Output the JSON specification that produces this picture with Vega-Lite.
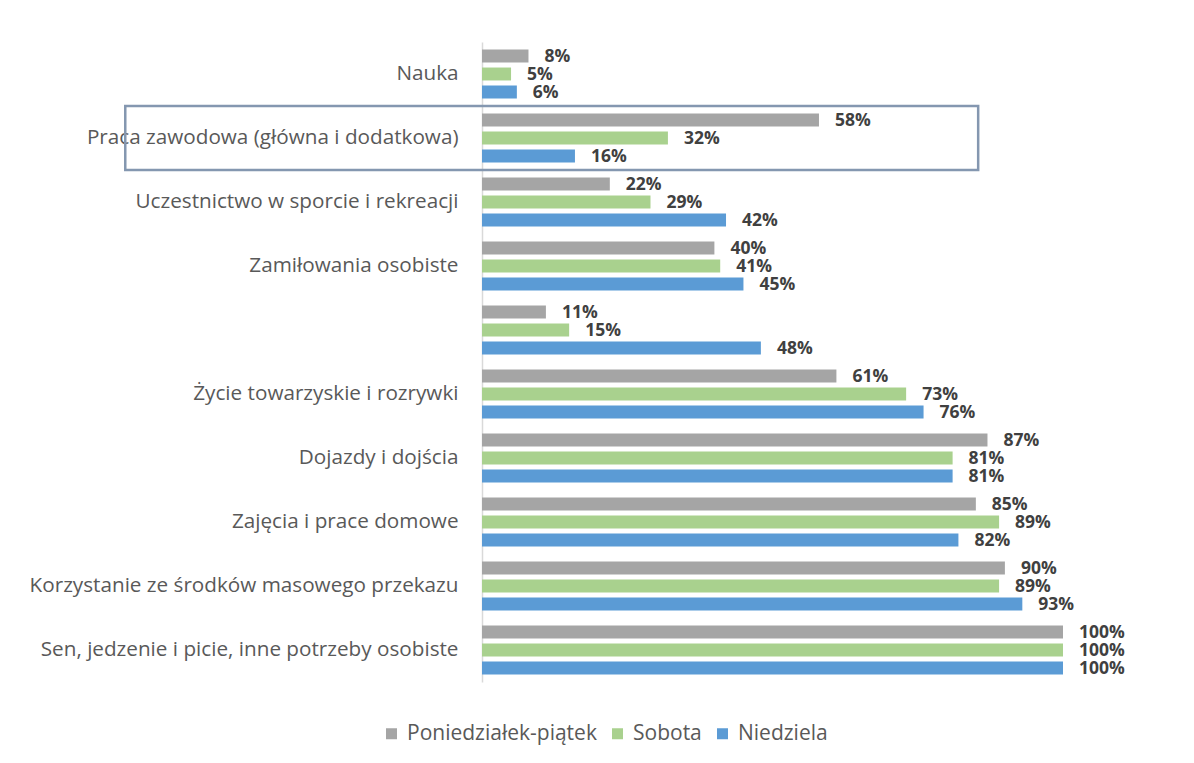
{
  "$schema": "https://vega.github.io/schema/vega-lite/v6.json",
  "width": 581,
  "height": 640,
  "autosize": {"type": "none"},
  "padding": {"left": 482, "top": 42, "right": 131, "bottom": 81},
  "background": "white",
  "config": {"view": {"stroke": null}, "font": "Open Sans"},
  "datasets": {
    "main": [
      {"cat": "Nauka", "series": "Poniedziałek-piątek", "value": 0.08},
      {"cat": "Nauka", "series": "Sobota", "value": 0.05},
      {"cat": "Nauka", "series": "Niedziela", "value": 0.06},
      {"cat": "Praca zawodowa (główna i dodatkowa)", "series": "Poniedziałek-piątek", "value": 0.58},
      {"cat": "Praca zawodowa (główna i dodatkowa)", "series": "Sobota", "value": 0.32},
      {"cat": "Praca zawodowa (główna i dodatkowa)", "series": "Niedziela", "value": 0.16},
      {"cat": "Uczestnictwo w sporcie i rekreacji", "series": "Poniedziałek-piątek", "value": 0.22},
      {"cat": "Uczestnictwo w sporcie i rekreacji", "series": "Sobota", "value": 0.29},
      {"cat": "Uczestnictwo w sporcie i rekreacji", "series": "Niedziela", "value": 0.42},
      {"cat": "Zamiłowania osobiste", "series": "Poniedziałek-piątek", "value": 0.40},
      {"cat": "Zamiłowania osobiste", "series": "Sobota", "value": 0.41},
      {"cat": "Zamiłowania osobiste", "series": "Niedziela", "value": 0.45},
      {"cat": " ", "series": "Poniedziałek-piątek", "value": 0.11},
      {"cat": " ", "series": "Sobota", "value": 0.15},
      {"cat": " ", "series": "Niedziela", "value": 0.48},
      {"cat": "Życie towarzyskie i rozrywki", "series": "Poniedziałek-piątek", "value": 0.61},
      {"cat": "Życie towarzyskie i rozrywki", "series": "Sobota", "value": 0.73},
      {"cat": "Życie towarzyskie i rozrywki", "series": "Niedziela", "value": 0.76},
      {"cat": "Dojazdy i dojścia", "series": "Poniedziałek-piątek", "value": 0.87},
      {"cat": "Dojazdy i dojścia", "series": "Sobota", "value": 0.81},
      {"cat": "Dojazdy i dojścia", "series": "Niedziela", "value": 0.81},
      {"cat": "Zajęcia i prace domowe", "series": "Poniedziałek-piątek", "value": 0.85},
      {"cat": "Zajęcia i prace domowe", "series": "Sobota", "value": 0.89},
      {"cat": "Zajęcia i prace domowe", "series": "Niedziela", "value": 0.82},
      {"cat": "Korzystanie ze środków masowego przekazu", "series": "Poniedziałek-piątek", "value": 0.90},
      {"cat": "Korzystanie ze środków masowego przekazu", "series": "Sobota", "value": 0.89},
      {"cat": "Korzystanie ze środków masowego przekazu", "series": "Niedziela", "value": 0.93},
      {"cat": "Sen, jedzenie i picie, inne potrzeby osobiste", "series": "Poniedziałek-piątek", "value": 1.0},
      {"cat": "Sen, jedzenie i picie, inne potrzeby osobiste", "series": "Sobota", "value": 1.0},
      {"cat": "Sen, jedzenie i picie, inne potrzeby osobiste", "series": "Niedziela", "value": 1.0}
    ],
    "box": [
      {"cat": "Praca zawodowa (główna i dodatkowa)", "start": -0.614, "end": 0.854}
    ]
  },
  "layer": [
    {
      "data": {"name": "main"},
      "mark": {"type": "bar"},
      "encoding": {
        "y": {
          "field": "cat", "type": "nominal",
          "sort": ["Nauka", "Praca zawodowa (główna i dodatkowa)", "Uczestnictwo w sporcie i rekreacji", "Zamiłowania osobiste", " ", "Życie towarzyskie i rozrywki", "Dojazdy i dojścia", "Zajęcia i prace domowe", "Korzystanie ze środków masowego przekazu", "Sen, jedzenie i picie, inne potrzeby osobiste"],
          "scale": {"paddingInner": 0, "paddingOuter": 0},
          "axis": {"title": null, "ticks": false, "domainColor": "#D9D9D9", "domainWidth": 1.5, "labelPadding": 24, "labelFontSize": 20.7, "labelColor": "#595959", "labelFont": "Open Sans", "labelLimit": 600}
        },
        "yOffset": {
          "field": "series", "type": "nominal",
          "sort": ["Poniedziałek-piątek", "Sobota", "Niedziela"],
          "scale": {"paddingInner": 0.28, "paddingOuter": 0.42}
        },
        "x": {"field": "value", "type": "quantitative", "scale": {"domain": [0, 1]}, "axis": null},
        "color": {
          "field": "series", "type": "nominal",
          "sort": ["Poniedziałek-piątek", "Sobota", "Niedziela"],
          "scale": {"domain": ["Poniedziałek-piątek", "Sobota", "Niedziela"], "range": ["#A5A5A5", "#A9D18E", "#5B9BD5"]},
          "legend": {"title": null, "orient": "none", "legendX": -101, "legendY": 681, "direction": "horizontal", "symbolType": "square", "symbolSize": 121, "symbolStrokeWidth": 0, "labelFontSize": 21, "labelColor": "#595959", "labelFont": "Open Sans", "columnPadding": 10, "labelOffset": 5, "labelLimit": 400}
        }
      }
    },
    {
      "data": {"name": "main"},
      "mark": {"type": "text", "align": "left", "baseline": "middle", "dx": 16, "dy": 1, "fontWeight": "bold", "fontSize": 17.5, "color": "#404040", "font": "Open Sans"},
      "encoding": {
        "y": {"field": "cat", "type": "nominal", "sort": ["Nauka", "Praca zawodowa (główna i dodatkowa)", "Uczestnictwo w sporcie i rekreacji", "Zamiłowania osobiste", " ", "Życie towarzyskie i rozrywki", "Dojazdy i dojścia", "Zajęcia i prace domowe", "Korzystanie ze środków masowego przekazu", "Sen, jedzenie i picie, inne potrzeby osobiste"]},
        "yOffset": {"field": "series", "type": "nominal", "sort": ["Poniedziałek-piątek", "Sobota", "Niedziela"]},
        "x": {"field": "value", "type": "quantitative"},
        "text": {"field": "value", "type": "quantitative", "format": ".0%"}
      }
    },
    {
      "data": {"name": "box"},
      "mark": {"type": "rect", "fill": null, "stroke": "#8497B0", "strokeWidth": 2.5, "clip": false},
      "encoding": {
        "y": {"field": "cat", "type": "nominal", "sort": ["Nauka", "Praca zawodowa (główna i dodatkowa)", "Uczestnictwo w sporcie i rekreacji", "Zamiłowania osobiste", " ", "Życie towarzyskie i rozrywki", "Dojazdy i dojścia", "Zajęcia i prace domowe", "Korzystanie ze środków masowego przekazu", "Sen, jedzenie i picie, inne potrzeby osobiste"]},
        "x": {"field": "start", "type": "quantitative"},
        "x2": {"field": "end"}
      }
    }
  ]
}
